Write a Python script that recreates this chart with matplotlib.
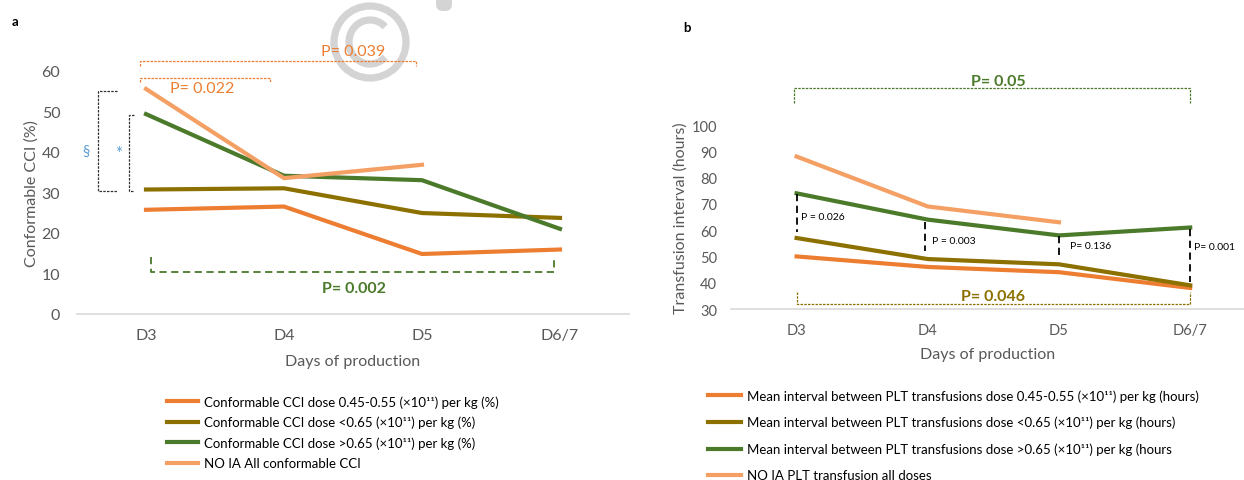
import matplotlib
matplotlib.use("Agg")
import matplotlib.pyplot as plt
from matplotlib import patches

plt.rcParams['font.family'] = ['Lato', 'DejaVu Sans']

days = ["D3", "D4", "D5", "D6/7"]

# panel a - conformable CCI (%)
cci_045_055 = [25.7, 26.5, 14.8, 15.9]
cci_lt_065 = [30.7, 31.0, 24.9, 23.7]
cci_gt_065 = [49.3, 34.1, 33.0, 21.0]
cci_no_ia = [55.5, 33.5, 36.8]

cci_labels = [
    "Conformable CCI dose 0.45-0.55 (×10¹¹) per kg (%)",
    "Conformable CCI dose <0.65 (×10¹¹) per kg (%)",
    "Conformable CCI dose >0.65 (×10¹¹) per kg (%)",
    "NO IA All conformable CCI",
]

# panel b - transfusion interval (hours)
int_045_055 = [50, 46, 44, 38]
int_lt_065 = [57, 49, 47, 39]
int_gt_065 = [74, 64, 58, 61]
int_no_ia = [88, 69, 63]

int_labels = [
    "Mean interval between PLT transfusions dose 0.45-0.55 (×10¹¹) per kg (hours)",
    "Mean interval between PLT transfusions dose <0.65 (×10¹¹) per kg (hours)",
    "Mean interval between PLT transfusions dose >0.65 (×10¹¹) per kg (hours",
    "NO IA PLT transfusion all doses",
]

ORANGE = '#ED7D31'
OLIVE = '#8C7000'
GREEN = '#4B7A2B'
LIGHT = '#F4A065'
GREY = '#595959'

fig = plt.figure(figsize=(12.44, 4.81), dpi=100)

# watermark, drawn on a pixel-sized background axes
bg = fig.add_axes([0, 0, 1, 1], zorder=-1)
bg.set_xlim(0, 1244)
bg.set_ylim(481, 0)
bg.axis('off')
wm = '#D4D4D4'
bg.add_patch(patches.Circle((370, 43), 36, fill=False, lw=5.2, ec=wm))
bg.add_patch(patches.Arc((370, 43), 42, 44, theta1=45, theta2=315, lw=5.2, ec=wm))
bg.add_patch(patches.FancyBboxPatch((436, -4), 16, 16,
                                    boxstyle="round,pad=0,rounding_size=7",
                                    fc=wm, ec='none'))


def style_axes(ax, fs):
    ax.set_facecolor('none')
    for s in ['top', 'right', 'left']:
        ax.spines[s].set_visible(False)
    ax.spines['bottom'].set_color('#D9D9D9')
    ax.spines['bottom'].set_linewidth(1.2)
    ax.tick_params(length=0, labelcolor=GREY, labelsize=fs)


x = list(range(len(days)))
lw = 3.0

# ---------------- panel a ----------------
ax1 = fig.add_axes([77 / 1244, 1 - 315 / 481, 552 / 1244, (315 - 71.7) / 481])
style_axes(ax1, 11.5)
ax1.plot(x, cci_045_055, color=ORANGE, lw=lw, label=cci_labels[0])
ax1.plot(x, cci_lt_065, color=OLIVE, lw=lw, label=cci_labels[1])
ax1.plot(x, cci_gt_065, color=GREEN, lw=lw, label=cci_labels[2])
ax1.plot(x[:3], cci_no_ia, color=LIGHT, lw=lw, label=cci_labels[3])
ax1.set_xlim(-0.5, 3.5)
ax1.set_ylim(0, 60)
ax1.set_yticks(range(0, 61, 10))
ax1.set_xticks(x)
ax1.set_xticklabels(days)
ax1.tick_params(axis='y', pad=12)
ax1.tick_params(axis='x', pad=10)
ax1.set_xlabel("Days of production", color=GREY, fontsize=11.5, labelpad=9)
ax1.set_ylabel("Conformable CCI (%)", color=GREY, fontsize=11.5, labelpad=2)

kw = dict(clip_on=False, lw=0.9, ls=(0, (2, 1)))
ax1.plot([-0.04, -0.04, 1.96, 1.96], [61.2, 62.5, 62.5, 61.2], color=ORANGE, **kw)
ax1.plot([-0.04, -0.04, 0.9, 0.9], [57.2, 58.3, 58.3, 57.2], color=ORANGE, **kw)
ax1.text(1.5, 64.9, "P= 0.039", color=ORANGE, fontsize=11.5, ha='center', va='center')
ax1.text(0.41, 55.7, "P= 0.022", color=ORANGE, fontsize=11.5, ha='center', va='center')
ax1.plot([-0.21, -0.35, -0.35, -0.21], [55.1, 55.1, 30.3, 30.3], color='#303030', **kw)
ax1.plot([-0.087, -0.12, -0.12, -0.087], [49.1, 49.1, 30.3, 30.3], color='#303030', **kw)
ax1.text(-0.435, 40.2, "§", color='#5B9BD5', fontsize=10.5, ha='center', va='center')
ax1.text(-0.2, 39.6, "*", color='#5B9BD5', fontsize=12, ha='center', va='center')
ax1.plot([0.036, 0.036, 2.96, 2.96], [14.1, 10.4, 10.4, 14.1], color=GREEN,
         clip_on=False, lw=1.3, ls=(0, (4, 2.5)))
ax1.text(1.51, 6.4, "P= 0.002", color=GREEN, fontsize=11.5, fontweight='bold',
         ha='center', va='center')

ax1.legend(loc='upper left', bbox_to_anchor=(167 / 1244, 1 - 396 / 481),
           bbox_transform=fig.transFigure, frameon=False, fontsize=9.5,
           handlelength=2.35, handletextpad=0.45, labelspacing=0.62,
           borderpad=0, borderaxespad=0)

# ---------------- panel b ----------------
ax2 = fig.add_axes([731 / 1244, 1 - 310 / 481, 513 / 1244, (310 - 126) / 481])
style_axes(ax2, 10.5)
ax2.plot(x, int_045_055, color=ORANGE, lw=lw, label=int_labels[0])
ax2.plot(x, int_lt_065, color=OLIVE, lw=lw, label=int_labels[1])
ax2.plot(x, int_gt_065, color=GREEN, lw=lw, label=int_labels[2])
ax2.plot(x[:3], int_no_ia, color=LIGHT, lw=lw, label=int_labels[3])
ax2.set_xlim(-0.5, 3.41)
ax2.set_ylim(30, 100)
ax2.set_yticks(range(30, 101, 10))
ax2.set_xticks(x)
ax2.set_xticklabels(days)
ax2.tick_params(axis='y', pad=10)
ax2.tick_params(axis='x', pad=10)
ax2.set_xlabel("Days of production", color=GREY, fontsize=11.5, labelpad=7)
ax2.set_ylabel("Transfusion interval (hours)", color=GREY, fontsize=11.5, labelpad=3)

ax2.plot([-0.02, -0.02, 3.0, 3.0], [108.3, 114.1, 114.1, 108.3], color=GREEN, **kw)
ax2.text(1.54, 116.8, "P= 0.05", color=GREEN, fontsize=11.5, fontweight='bold',
         ha='center', va='center')
ax2.plot([0.0, 0.0, 3.0, 3.0], [36.4, 31.9, 31.9, 36.4], color=OLIVE, **kw)
ax2.text(1.5, 35.0, "P= 0.046", color=OLIVE, fontsize=11.5, fontweight='bold',
         ha='center', va='center')

dash = dict(color='black', lw=1.3, ls=(0, (4, 2.5)), clip_on=False)
ax2.plot([0, 0], [73.7, 59.3], **dash)
ax2.plot([0.98, 0.98], [63, 52], **dash)
ax2.plot([2.0, 2.0], [57.9, 49.8], **dash)
ax2.plot([3.0, 3.0], [60.4, 40.3], **dash)
pk = dict(color='black', fontsize=7.5, ha='left', va='center', clip_on=False)
ax2.text(0.03, 65, "P = 0.026", **pk)
ax2.text(1.03, 56, "P = 0.003", **pk)
ax2.text(2.08, 54, "P= 0.136", **pk)
ax2.text(3.03, 53.7, "P= 0.001", **pk)

ax2.legend(loc='upper left', bbox_to_anchor=(708 / 1244, 1 - 390 / 481),
           bbox_transform=fig.transFigure, frameon=False, fontsize=9.5,
           handlelength=2.5, handletextpad=0.45, labelspacing=1.08,
           borderpad=0, borderaxespad=0)

fig.text(12 / 1244, 1 - 22 / 481, "a", fontsize=9.5, fontweight='bold', va='center')
fig.text(683 / 1244, 1 - 28 / 481, "b", fontsize=9.5, fontweight='bold', va='center')

fig.savefig("out.png", dpi=100)
